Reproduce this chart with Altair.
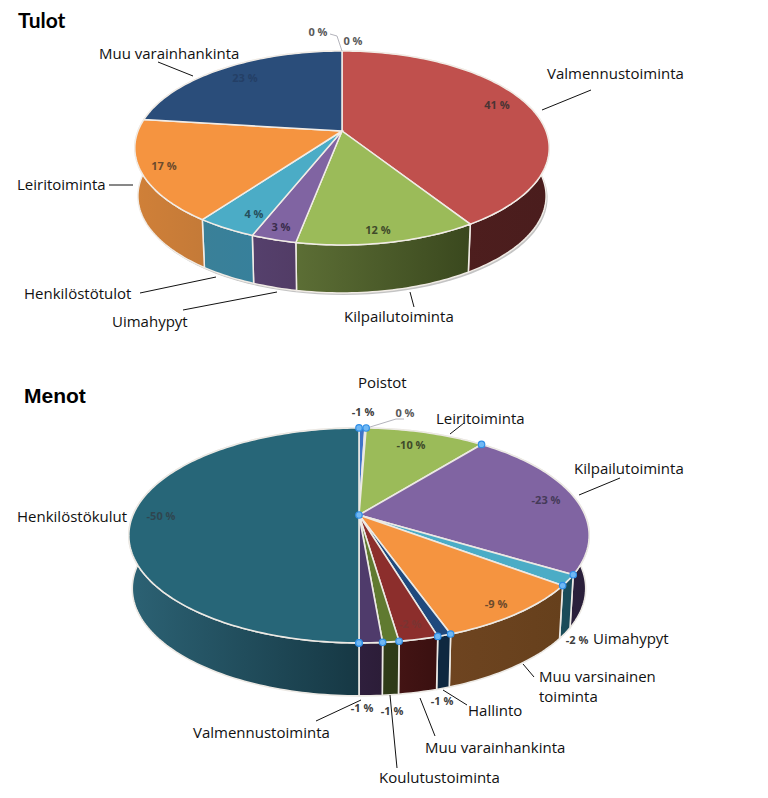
import math
import altair as alt

# ---------- data ----------
tulot_names = ["Valmennustoiminta", "Kilpailutoiminta", "Uimahypyt", "Henkilöstötulot", "Leiritoiminta", "Muu varainhankinta"]
tulot_values = [41, 12, 3, 4, 17, 23]
tulot_top = ["#c0504d", "#9bbb59", "#8064a2", "#4bacc6", "#f59440", "#2a4d7a"]
tulot_side = [("#521f1f", "#4a1d1d"), ("#5c6e35", "#3a481e"), ("#55406c", "#523c66"),
              ("#3a8098", "#37809b"), ("#d08038", "#c47a38"), ("#1e3a5c", "#1e3a5c")]

menot_names = ["Poistot", "Poistot 0", "Leiritoiminta", "Kilpailutoiminta", "Uimahypyt", "Muu varsinainen toiminta",
               "Hallinto", "Muu varainhankinta", "Koulutustoiminta", "Valmennustoiminta", "Henkilöstökulut"]
menot_values = [0.5, 0.1, 10.1, 23, 1.6, 9.3, 0.8, 2.3, 0.95, 1.35, 50]
menot_top = ["#3f74c8", "#a5a5a5", "#9bbb59", "#8064a2", "#4bacc6", "#f59440",
             "#1f497d", "#8c2e2c", "#607a30", "#4f3b6b", "#276678"]
menot_side = [("#2a4a80", "#2a4a80"), ("#777777", "#777777"), ("#4a5a28", "#4a5a28"), ("#2e2340", "#2a1f3a"),
              ("#1a4d5a", "#1a4a58"), ("#6e4420", "#66401c"), ("#0f2840", "#0f2840"), ("#431414", "#3a1010"),
              ("#303c18", "#2e3a18"), ("#2f1f3d", "#2c1d38"), ("#2c6274", "#163844")]

# label text, left edge, vertical centre (page layout of the annotations)
tulot_labels = [("Muu varainhankinta", 99, 54), ("Valmennustoiminta", 547, 74), ("Leiritoiminta", 17, 185),
                ("Henkilöstötulot", 24, 294), ("Uimahypyt", 112, 322), ("Kilpailutoiminta", 344, 317)]
menot_labels = [("Poistot", 358, 383), ("Leiritoiminta", 436, 419), ("Kilpailutoiminta", 574, 469),
                ("Henkilöstökulut", 17, 517), ("Uimahypyt", 593, 639), ("Muu varsinainen", 539, 677),
                ("toiminta", 539, 697), ("Hallinto", 468, 711), ("Muu varainhankinta", 425, 748),
                ("Koulutustoiminta", 379, 778), ("Valmennustoiminta", 193, 733)]
pct_labels = [("0 %", 318, 33, "#595959"), ("0 %", 353, 42, "#595959"), ("41 %", 497, 106, "#4a3434"),
              ("12 %", 378, 231, "#3f4a2a"), ("3 %", 281, 228, "#3a2c4c"), ("4 %", 254, 215, "#264f5c"),
              ("17 %", 164, 167, "#6b4a2c"), ("23 %", 245, 79, "#243f66"),
              ("-1 %", 363, 413, "#404040"), ("0 %", 405, 414, "#595959"), ("-10 %", 411, 446, "#3f4a2a"),
              ("-23 %", 546, 501, "#453a58"), ("-9 %", 496, 605, "#6b4a2c"), ("-2 %", 577, 641, "#404040"),
              ("-2 %", 410, 625, "#7a3432"), ("-1 %", 442, 702, "#404040"), ("-1 %", 362, 709, "#404040"),
              ("-1 %", 392, 712, "#404040"), ("-50 %", 161, 517, "#2f4650")]
leaders = [(158, 62, 193, 76), (542, 110, 591, 90), (109, 185, 133, 185), (140, 293, 216, 277),
           (183, 310, 277, 292), (410, 292, 414, 307),
           (450, 434, 464, 423), (579, 495, 620, 478), (523, 664, 534, 677), (443, 690, 467, 705),
           (420, 698, 435, 736), (390, 695, 397, 768), (316, 721, 361, 700)]
thin_leaders = [(330, 34, 337, 36), (337, 36, 342, 51), (370, 427, 396, 419), (396, 419, 404, 419)]

# pie layout: apex x, apex y, rim half width, rim depth, perspective, wall height
TULOT = (342, 131, 204, 94, 0.175, 48)
MENOT = (359, 515, 226, 103.6, 0.19, 53)


def rim(theta, geo, drop=0.0, shrink=1.0, dx=0.0):
    cx, cy, r, s, k, _ = geo
    u, v = math.sin(theta), -math.cos(theta)
    den = 1 - k * v
    return [cx + dx + shrink * r * u / den, cy + drop + s * v / den]


def slices(values, start, geo):
    total = sum(values)
    out, cum = [], start
    for val in values:
        a0 = cum / total * 2 * math.pi
        cum += val
        a1 = cum / total * 2 * math.pi
        n = max(2, int(val * 3))
        out.append([a0 + (a1 - a0) * i / n for i in range(n + 1)])
    return out


def poly(ring):
    return {"type": "Feature", "properties": {},
            "geometry": {"type": "Polygon", "coordinates": [ring + [ring[0]]]}}


PROJ = dict(type="identity", scale=1, translate=[-8, -8])


def shape(ring, **mark):
    return alt.Chart(alt.Data(values=[poly(ring)])).mark_geoshape(**mark).project(**PROJ)


def pie(values, tops, sides, geo, edge, edge_w=1.5, shadow=False):
    h = geo[5]
    parts = []
    arcs = slices(values, 0, geo)
    if shadow:
        full = [rim(2 * math.pi * i / 120, geo, h + 2, 0.985, 1.5) for i in range(120)]
        parts.append(shape(full, fill="#c4c4c4", strokeWidth=0))
    for arc, side in zip(arcs, sides):
        ring = [rim(a, geo) for a in arc] + [rim(a, geo, h, 0.985) for a in reversed(arc)]
        grad = alt.Gradient(gradient="linear", x1=0, x2=1, y1=0, y2=0,
                            stops=[alt.GradientStop(color=side[0], offset=0),
                                   alt.GradientStop(color=side[1], offset=1)])
        parts.append(shape(ring, fill=grad, stroke=edge, strokeWidth=edge_w))
    for arc, top in zip(arcs, tops):
        ring = [[geo[0], geo[1]]] + [rim(a, geo) for a in arc]
        parts.append(shape(ring, fill=top, stroke=edge, strokeWidth=edge_w))
    return parts


xs = alt.Scale(domain=[8, 760], range=[0, 752])
ys = alt.Scale(domain=[8, 790], range=[0, 782])
X = alt.X("x:Q", scale=xs, axis=None)
Y = alt.Y("y:Q", scale=ys, axis=None)

layers = []
layers += pie(tulot_values, tulot_top, tulot_side, TULOT, "#f1ece6", shadow=True)
layers += pie(menot_values, menot_top, menot_side, MENOT, "#ece9e4", edge_w=1.6)

# handles on Menot
handle_pts = []
cum = 0.0
mt = sum(menot_values)
for i, val in enumerate([0] + menot_values[:-1]):
    cum += val
    if i == 1:
        continue
    p = rim(cum / mt * 2 * math.pi, MENOT)
    handle_pts.append({"x": p[0], "y": p[1]})
handle_pts.append({"x": MENOT[0], "y": MENOT[1]})
handle_pts.append(dict(zip("xy", rim(math.pi, MENOT))))

rules = alt.Chart(alt.Data(values=[dict(x=a, y=b, x2=c, y2=d) for a, b, c, d in leaders])).mark_rule(
    color="#111111", strokeWidth=1).encode(x=X, y=Y, x2="x2:Q", y2="y2:Q")
thin = alt.Chart(alt.Data(values=[dict(x=a, y=b, x2=c, y2=d) for a, b, c, d in thin_leaders])).mark_rule(
    color="#b4b4bc", strokeWidth=1).encode(x=X, y=Y, x2="x2:Q", y2="y2:Q")
handles = alt.Chart(alt.Data(values=handle_pts)).mark_point(
    filled=True, size=42, fill="#70b8f4", stroke="#2f8ee6", strokeWidth=1.2, opacity=1).encode(x=X, y=Y)

label_rows = [dict(t=t, x=x, y=y) for t, x, y in tulot_labels + menot_labels]
labels = alt.Chart(alt.Data(values=label_rows)).mark_text(
    align="left", baseline="middle", font="Open Sans", fontSize=15, color="#111111").encode(x=X, y=Y, text="t:N")
pct_rows = [dict(t=t, x=x, y=y, c=c) for t, x, y, c in pct_labels]
pcts = alt.Chart(alt.Data(values=pct_rows)).mark_text(
    align="center", baseline="middle", font="Open Sans", fontSize=11, fontWeight="bold").encode(
    x=X, y=Y, text="t:N", color=alt.Color("c:N", scale=None))
title1 = alt.Chart(alt.Data(values=[dict(t="Tulot", x=18, y=22)])).mark_text(
    align="left", baseline="middle", font="Lato", fontSize=21, fontWeight="bold", color="#000000").encode(x=X, y=Y, text="t:N")
title2 = alt.Chart(alt.Data(values=[dict(t="Menot", x=24, y=397)])).mark_text(
    align="left", baseline="middle", font="Liberation Sans", fontSize=21, fontWeight="bold", color="#000000").encode(x=X, y=Y, text="t:N")

chart = alt.layer(*layers, rules, thin, handles, labels, pcts, title1, title2).properties(
    width=752, height=782, padding=0, autosize=alt.AutoSizeParams(type="none"),
    background="#ffffff").configure_view(stroke=None)

chart.save("out.html", embed_options={"renderer": "svg", "actions": False})
